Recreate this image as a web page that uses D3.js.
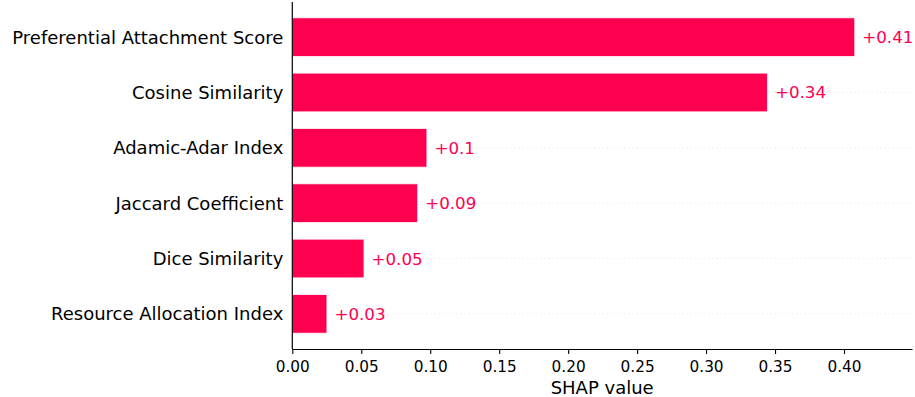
<!DOCTYPE html>
<html>
<head>
<meta charset="utf-8">
<script src="https://cdn.jsdelivr.net/npm/d3@7"></script>
<style>
    body { margin: 0; background: #fff; }
    svg { display: block; }
</style>
</head>
<body>
<svg id="chart"></svg>
<script>
// Data (SHAP mean values per feature)
const features = [
    "Preferential Attachment Score",
    "Cosine Similarity",
    "Adamic-Adar Index",
    "Jaccard Coefficient",
    "Dice Similarity",
    "Resource Allocation Index"
];
const shapValues = [0.4078, 0.3445, 0.0976, 0.0909, 0.052, 0.0251];
const valueLabels = ["+0.41", "+0.34", "+0.1", "+0.09", "+0.05", "+0.03"];
const xTicks = [0.00, 0.05, 0.10, 0.15, 0.20, 0.25, 0.30, 0.35, 0.40];

const width = 915, height = 397;
const margins = { top: 2, right: 3, bottom: 48, left: 292.3 };
const barColor = "#ff0051";
const font = "'DejaVu Sans', sans-serif";

const svg = d3.select("#chart")
    .attr("width", width)
    .attr("height", height)
    .attr("viewBox", [0, 0, width, height]);

const x = d3.scaleLinear()
    .domain([0, 0.4493])
    .range([margins.left, width - margins.right]);

// matplotlib-style y: index positions with bar height 0.7 and 5% margin
const y = d3.scaleLinear()
    .domain([-0.635, features.length - 1 + 0.635])
    .range([margins.top, height - margins.bottom]);
const barH = y(0.35) - y(-0.35);

// dotted guide lines behind bars
svg.append("g")
    .selectAll("line")
    .data(features)
    .join("line")
        .attr("x1", x(0))
        .attr("x2", x.range()[1])
        .attr("y1", (d, i) => y(i))
        .attr("y2", (d, i) => y(i))
        .attr("stroke", "#cccccc")
        .attr("stroke-width", 0.7)
        .attr("stroke-dasharray", "0.7,3.5");

// bars
svg.append("g")
    .selectAll("rect")
    .data(shapValues)
    .join("rect")
        .attr("x", x(0))
        .attr("y", (d, i) => y(i) - barH / 2)
        .attr("width", d => x(d) - x(0))
        .attr("height", barH)
        .attr("fill", barColor)
        .attr("stroke", "rgba(255,255,255,0.8)")
        .attr("stroke-width", 1);

// value labels
svg.append("g")
    .selectAll("text")
    .data(shapValues)
    .join("text")
        .attr("x", d => x(d) + 7.5)
        .attr("y", (d, i) => y(i))
        .attr("dy", "0.36em")
        .attr("fill", barColor)
        .style("font-family", font)
        .style("font-size", "16.7px")
        .text((d, i) => valueLabels[i]);

// feature names
svg.append("g")
    .selectAll("text")
    .data(features)
    .join("text")
        .attr("x", x(0) - 9)
        .attr("y", (d, i) => y(i))
        .attr("dy", "0.36em")
        .attr("text-anchor", "end")
        .attr("fill", "#000")
        .style("font-family", font)
        .style("font-size", "18px")
        .text(d => d);

// x axis
const xAxis = d3.axisBottom(x)
    .tickValues(xTicks)
    .tickFormat(d3.format(".2f"))
    .tickSizeInner(5)
    .tickSizeOuter(0)
    .tickPadding(7);

svg.append("g")
    .attr("transform", `translate(0,${height - margins.bottom})`)
    .call(xAxis)
    .call(g => g.select(".domain").attr("stroke-width", 1.2))
    .call(g => g.selectAll(".tick line").attr("stroke-width", 1.1))
    .selectAll("text")
        .style("font-family", font)
        .style("font-size", "15.3px")
        .attr("fill", "#000");

// left spine
svg.append("line")
    .attr("x1", x(0)).attr("x2", x(0))
    .attr("y1", margins.top).attr("y2", height - margins.bottom)
    .attr("stroke", "#000")
    .attr("stroke-width", 1.2);

// x label
svg.append("text")
    .attr("x", (x.range()[0] + x.range()[1]) / 2)
    .attr("y", 393.5)
    .attr("text-anchor", "middle")
    .style("font-family", font)
    .style("font-size", "18px")
    .attr("fill", "#000")
    .text("SHAP value");
</script>
</body>
</html>
